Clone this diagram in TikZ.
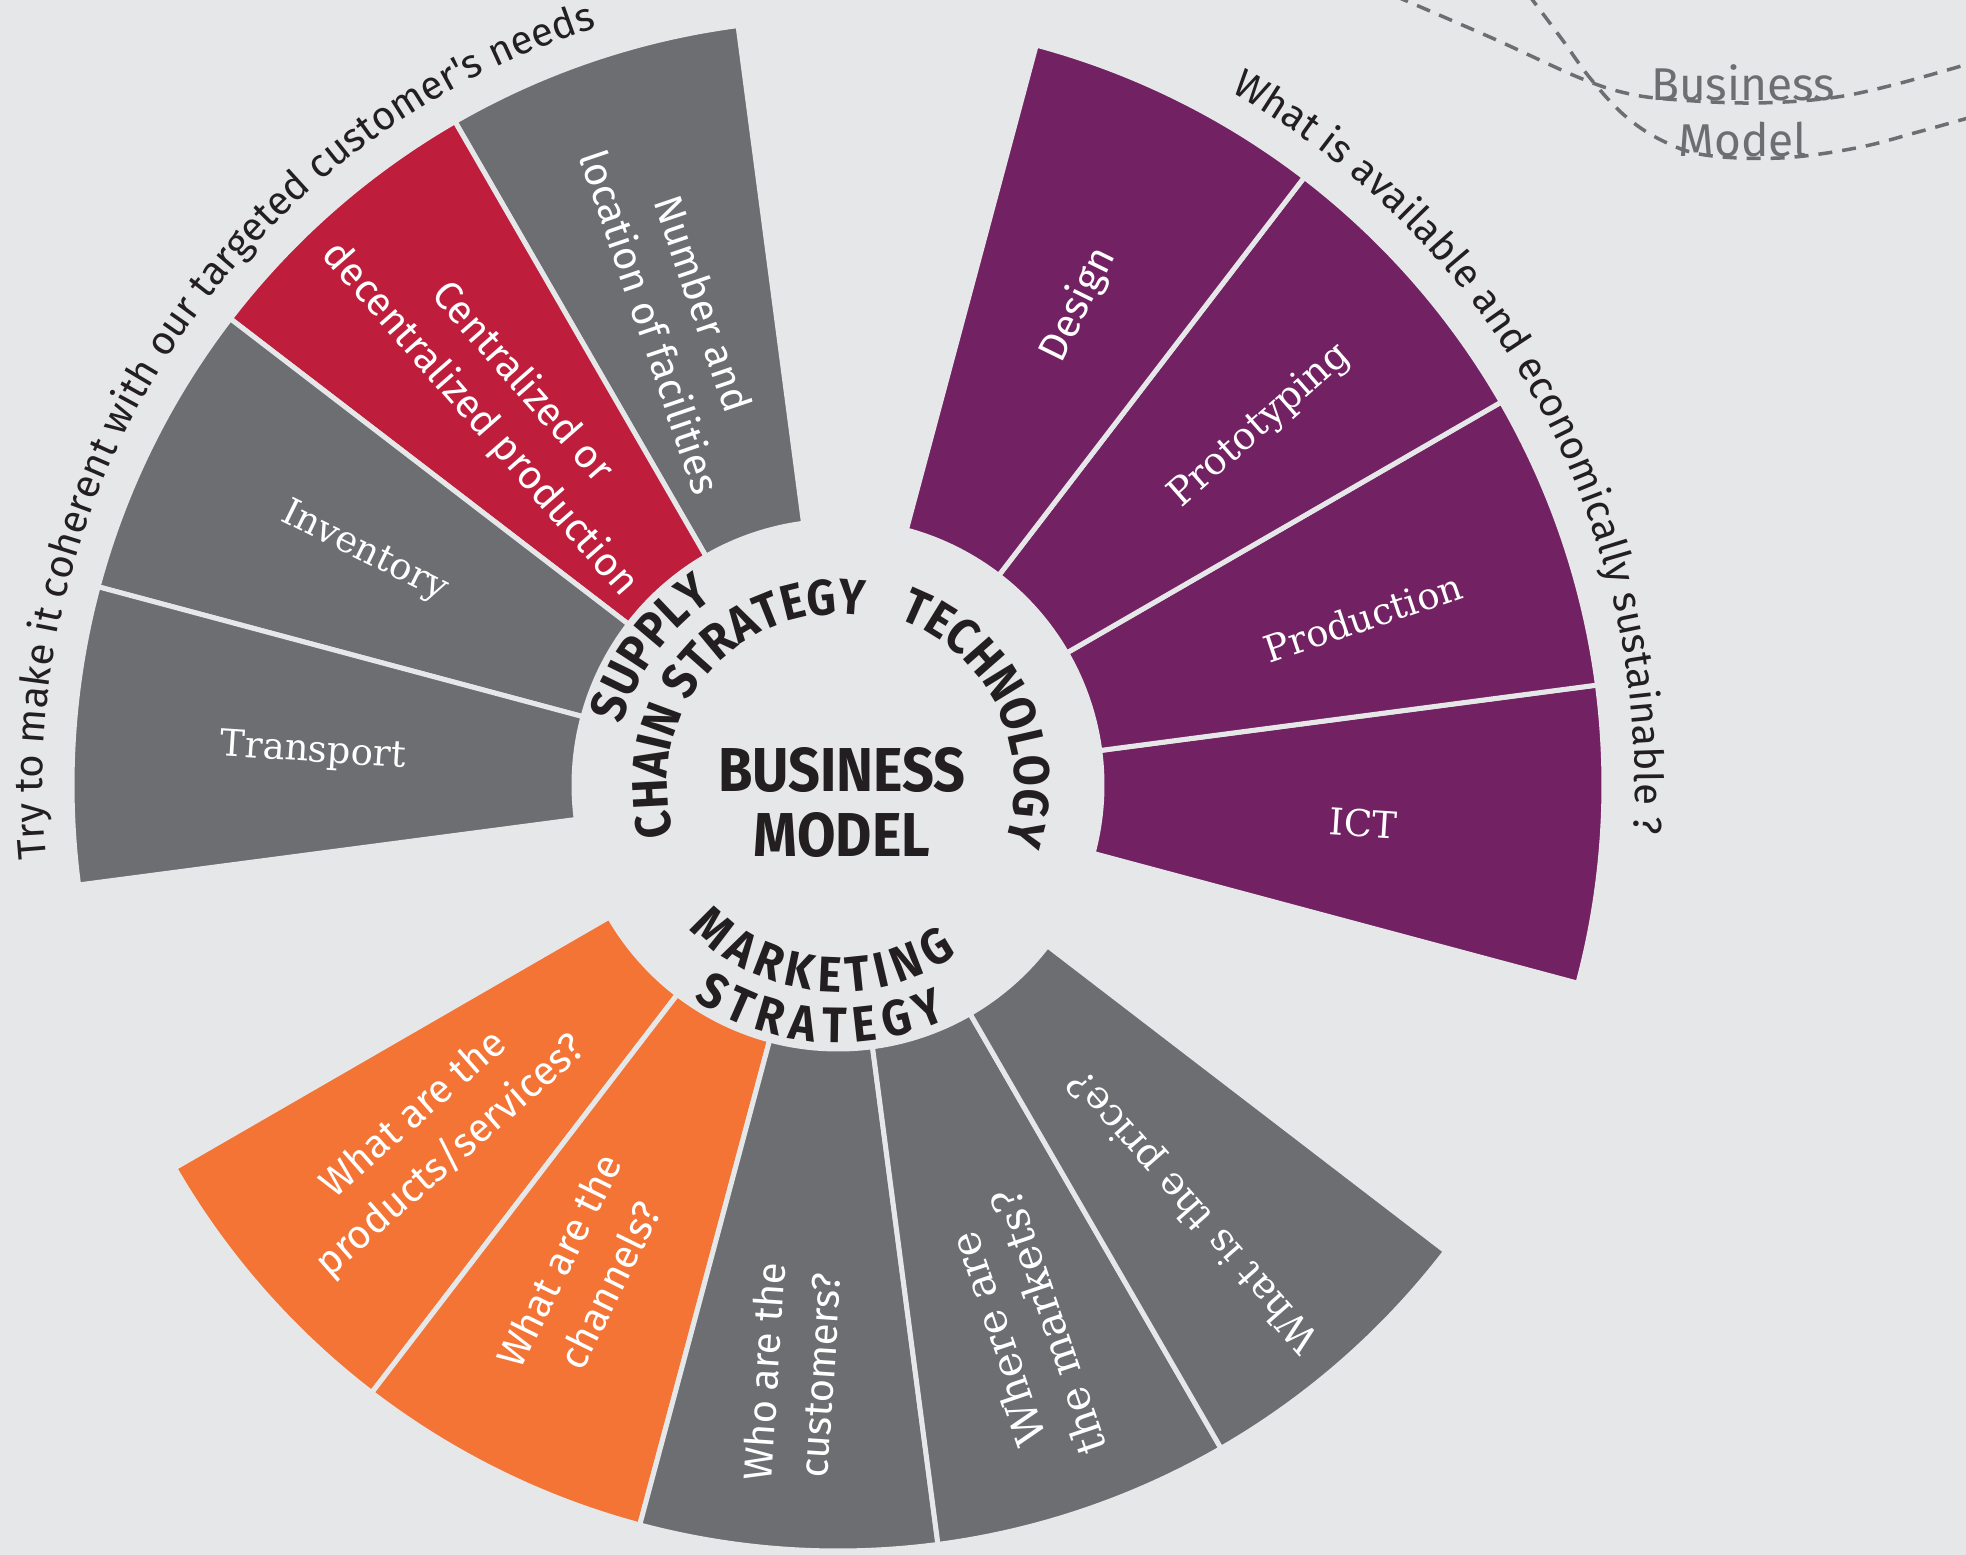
\documentclass[tikz,border=0pt]{standalone}
\usepackage{fontspec}
\setmainfont{Fira Sans}
\newfontfamily\sansf{Fira Sans}
\newfontfamily\serifs{DejaVu Serif}
\newfontfamily\catfont[FakeStretch=0.9]{Fira Sans}
\usetikzlibrary{decorations.text}
\definecolor{bg}{HTML}{E6E7E8}
\definecolor{wgray}{HTML}{6D6E71}
\definecolor{wred}{HTML}{BE1E3C}
\definecolor{wpurple}{HTML}{722263}
\definecolor{worange}{HTML}{F37435}
\definecolor{ink}{HTML}{231F20}
\begin{document}
\begin{tikzpicture}[x=1pt,y=1pt,
  wedge/.style={draw=bg, line width=5pt},
  lab/.style={text=white, align=center, inner sep=0pt},
  sanslab/.style={lab, font=\sansf\fontsize{40}{56}\selectfont},
  seriflab/.style={lab, font=\serifs\fontsize{37}{50}\selectfont},
  dashcurve/.style={draw=wgray, line width=3.5pt, dash pattern=on 14pt off 10pt},
  bmtext/.style={text=wgray, inner sep=0pt, font=\sansf\fontsize{46}{50}\selectfont}]
\fill[bg] (0,0) rectangle (1966,-1555);
\useasboundingbox (0,0) rectangle (1966,-1555);
\begin{scope}[shift={(838,-785)}]
  \foreach \a/\c [evaluate=\a as \b using \a+22.5] in
     {97.5/wgray, 120/wred, 142.5/wgray, 165/wgray,
      -15/wpurple, 7.5/wpurple, 30/wpurple, 52.5/wpurple,
      210/worange, 232.5/worange, 255/wgray, 277.5/wgray, 300/wgray}
    \filldraw[wedge, fill=\c] (\a:264) arc[start angle=\a, end angle=\b, radius=264]
      -- (\b:766) arc[start angle=\b, end angle=\a, radius=766] -- cycle;
  % supply chain labels
  \node[seriflab, rotate=-3.75] (transport) at (176.4:526) {Transport};
  \node[seriflab, rotate=-26.25] (inventory) at (153.8:528) {Inventory};
  \node[sanslab, rotate=-48.75] (central) at (131.3:511) {Centralized or\\decentralized production};
  \node[sanslab, rotate=-71.25] (number) at (108.8:499) {Number and\\location of facilities};
  % technology labels
  \node[sanslab, rotate=63.75] (design) at (63.4:537) {Design};
  \node[seriflab, rotate=41.25, font=\serifs\fontsize{38}{50}\selectfont] (proto) at (40.4:554) {Prototyping};
  \node[seriflab, rotate=18.75] (prod) at (17.7:551) {Production};
  \node[seriflab, rotate=-3.75] (ict) at (-4.2:527) {ICT};
  % marketing labels
  \node[sanslab, rotate=41.25] (products) at (220.9:536) {What are the\\products/services?};
  \node[sanslab, rotate=63.75] (channels) at (242.5:550) {What are the\\channels?};
  \node[sanslab, rotate=86.25] (who) at (265.5:590) {Who are the\\customers?};
  \node[seriflab, rotate=108.75, font=\serifs\fontsize{42}{54}\selectfont] (where) at (288.7:576) {Where are\\the markets?};
  \node[seriflab, rotate=131.25, font=\serifs\fontsize{39}{50}\selectfont] (price) at (310:555) {What is the price?};
  % centre
  \node[text=ink, align=center, inner sep=0pt, font=\catfont\bfseries\fontsize{62}{65}\selectfont] (bm) at (4,-18) {BUSINESS\\MODEL};
  % curved category labels
  \path[decorate, decoration={text along path, text align=center, text color=ink,
     text={|\catfont\bfseries\fontsize{50}{60}\selectfont|SUPPLY}}]
     (200:224) arc[start angle=200, end angle=88, radius=224];
  \path[decorate, decoration={text along path, text align=center, text color=ink,
     text={|\catfont\bfseries\fontsize{50}{60}\selectfont|CHAIN STRATEGY}}]
     (230:171) arc[start angle=230, end angle=48, radius=171];
  \path[decorate, decoration={text along path, text align=center, text color=ink,
     text={|\catfont\bfseries\fontsize{50}{60}\selectfont|TECHNOLOGY}}]
     (100:177) arc[start angle=100, end angle=-49, radius=177];
  \path[decorate, decoration={text along path, text align=fit to path, text color=ink,
     text={|\catfont\bfseries\fontsize{50}{60}\selectfont|MARKETING}}]
     (224:207) arc[start angle=224, end angle=305, radius=207];
  \path[decorate, decoration={text along path, text align=fit to path, text color=ink,
     text={|\catfont\bfseries\fontsize{50}{60}\selectfont|STRATEGY}}]
     (236:258) arc[start angle=236, end angle=295, radius=258];
  % outer remarks
  \path[decorate, decoration={text along path, text align=center, text color=ink,
     text={|\sansf\fontsize{40}{48}\selectfont|Try to make it coherent with our targeted customer's needs}}]
     (230:795) arc[start angle=230, end angle=63, radius=795];
  \path[decorate, decoration={text along path, text align=center, text color=ink,
     text={|\sansf\fontsize{40}{48}\selectfont|What is available and economically sustainable ?}}]
     (80:797) arc[start angle=80, end angle=-23, radius=797];
\end{scope}
\begin{scope}
  \clip (0,0) rectangle (1966,-1555);
  \draw[dashcurve] plot[smooth, tension=0.6] coordinates {(1395,4) (1492,-38) (1580,-78) (1630,-94) (1680,-100) (1755,-103) (1830,-98) (1893,-85) (1975,-62)};
  \draw[dashcurve] plot[smooth, tension=0.6] coordinates {(1528,6) (1561,-38) (1590,-78) (1624,-115) (1661,-140) (1705,-155) (1780,-158) (1856,-148) (1918,-132) (1975,-116)};
\end{scope}
\node[bmtext] (bmbus) at (1743,-83) {Business};
\node[bmtext] (bmmod) at (1743,-140) {Model};
\end{tikzpicture}
\end{document}
